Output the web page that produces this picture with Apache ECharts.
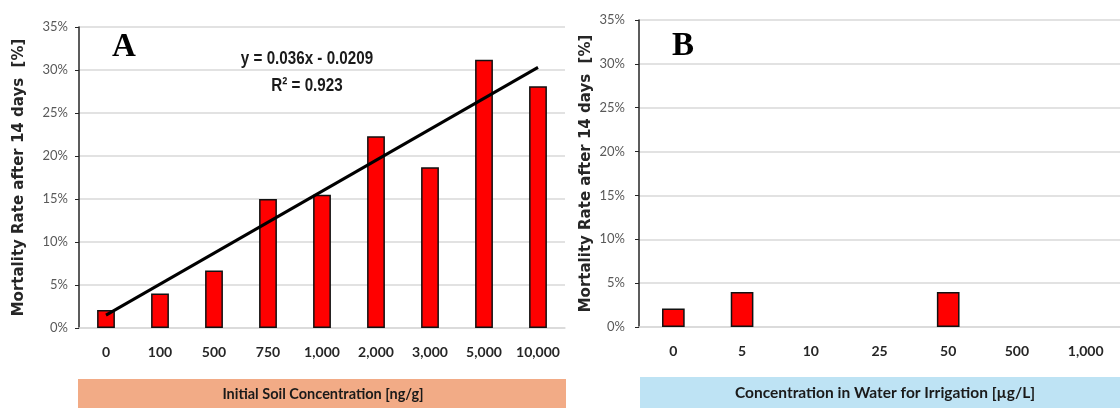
<!DOCTYPE html>
<html>
<head>
<meta charset="utf-8">
<script src="https://cdn.jsdelivr.net/npm/echarts@6/dist/echarts.min.js"></script>
<style>
  html, body { margin: 0; padding: 0; background: #fff; }
  #chart { width: 1120px; height: 408px; }
</style>
</head>
<body>
<div id="chart"></div>
<script>
// panel A: initial soil concentration
const soilCats = ['0', '100', '500', '750', '1,000', '2,000', '3,000', '5,000', '10,000']
const soilMortality = [2.1, 4.0, 6.7, 15.0, 15.5, 22.3, 18.7, 31.2, 28.1]
// fitted line, end points
const soilTrend = [1.5, null, null, null, null, null, null, null, 30.3]
// panel B: irrigation water
const waterCats = ['0', '5', '10', '25', '50', '500', '1,000']
const waterMortality = [2.1, 4.0, 0, 0, 4.0, 0, 0]

const yTitle = 'Mortality Rate after 14 days  [%]'
const labelFont = 'Lato, "Open Sans", sans-serif'

const chart = echarts.init(document.getElementById('chart'))

function yAxisOf(gridIndex, margin, gap) {
  return {
    type: 'value',
    gridIndex: gridIndex,
    min: 0,
    max: 35,
    interval: 5,
    name: yTitle,
    nameLocation: 'middle',
    nameGap: gap,
    nameTextStyle: {
      fontFamily: 'DejaVu Sans',
      fontWeight: 'bold',
      fontSize: 15,
      color: '#262626'
    },
    axisLine: { show: true, lineStyle: { color: '#262626', width: 1.5 } },
    axisTick: { show: true, length: 4, lineStyle: { color: '#262626' } },
    axisLabel: {
      margin: margin,
      fontFamily: labelFont,
      fontSize: 13,
      color: '#595959',
      formatter: '{value}%'
    },
    splitLine: { lineStyle: { color: '#d9d9d9', width: 1.5 } }
  }
}

function xAxisOf(gridIndex, cats) {
  return {
    type: 'category',
    gridIndex: gridIndex,
    data: cats,
    axisLine: { lineStyle: { color: '#d9d9d9', width: 1.5 } },
    axisTick: { show: false },
    axisLabel: {
      interval: 0,
      margin: 17,
      fontFamily: labelFont,
      fontWeight: 'bold',
      fontSize: 14,
      color: '#262626'
    }
  }
}

const barStyle = { color: '#ff0000', borderColor: '#111', borderWidth: 1.5 }

let option = {
  animation: false,
  grid: [
    { left: 79, top: 27, width: 486, height: 301 },
    { left: 639, top: 20, width: 490, height: 307 }
  ],
  xAxis: [xAxisOf(0, soilCats), xAxisOf(1, waterCats)],
  yAxis: [yAxisOf(0, 11, 52), yAxisOf(1, 14, 45)],
  series: [
    {
      type: 'bar',
      xAxisIndex: 0,
      yAxisIndex: 0,
      barWidth: '33%',
      itemStyle: barStyle,
      data: soilMortality
    },
    {
      type: 'line',
      xAxisIndex: 0,
      yAxisIndex: 0,
      connectNulls: true,
      symbol: 'none',
      lineStyle: { color: '#000', width: 3 },
      data: soilTrend,
      z: 5
    },
    {
      type: 'bar',
      xAxisIndex: 1,
      yAxisIndex: 1,
      barWidth: '33%',
      itemStyle: barStyle,
      data: waterMortality.map(v => (v === 0 ? '-' : v))
    }
  ],
  graphic: [
    {
      type: 'text', left: 112, top: 31,
      style: { text: 'A', font: 'bold 33px "Liberation Serif", serif', fill: '#000' }
    },
    {
      type: 'text', left: 672, top: 30,
      style: { text: 'B', font: 'bold 33px "Liberation Serif", serif', fill: '#000' }
    },
    {
      type: 'text', x: 307, y: 59, scaleX: 0.8,
      style: {
        text: 'y = 0.036x - 0.0209',
        font: 'bold 19px "Liberation Sans", Arial, sans-serif',
        fill: '#1a1a1a', align: 'center', verticalAlign: 'middle'
      }
    },
    {
      type: 'text', x: 307, y: 86, scaleX: 0.8,
      style: {
        text: 'R² = 0.923',
        font: 'bold 19px "Liberation Sans", Arial, sans-serif',
        fill: '#1a1a1a', align: 'center', verticalAlign: 'middle'
      }
    },
    {
      type: 'rect', shape: { x: 78, y: 379, width: 488, height: 40 },
      style: { fill: '#f2ab86' }
    },
    {
      type: 'text', x: 323, y: 394,
      style: {
        text: 'Initial Soil Concentration [ng/g]',
        font: 'bold 14.5px Lato, sans-serif',
        fill: '#1a1a1a', align: 'center', verticalAlign: 'middle'
      }
    },
    {
      type: 'rect', shape: { x: 640, y: 377, width: 490, height: 40 },
      style: { fill: '#bee3f4' }
    },
    {
      type: 'text', x: 885, y: 393,
      style: {
        text: 'Concentration in Water for Irrigation [µg/L]',
        font: 'bold 15.5px Lato, sans-serif',
        fill: '#1a1a1a', align: 'center', verticalAlign: 'middle'
      }
    }
  ]
}

chart.setOption(option, true)
</script>
</body>
</html>
